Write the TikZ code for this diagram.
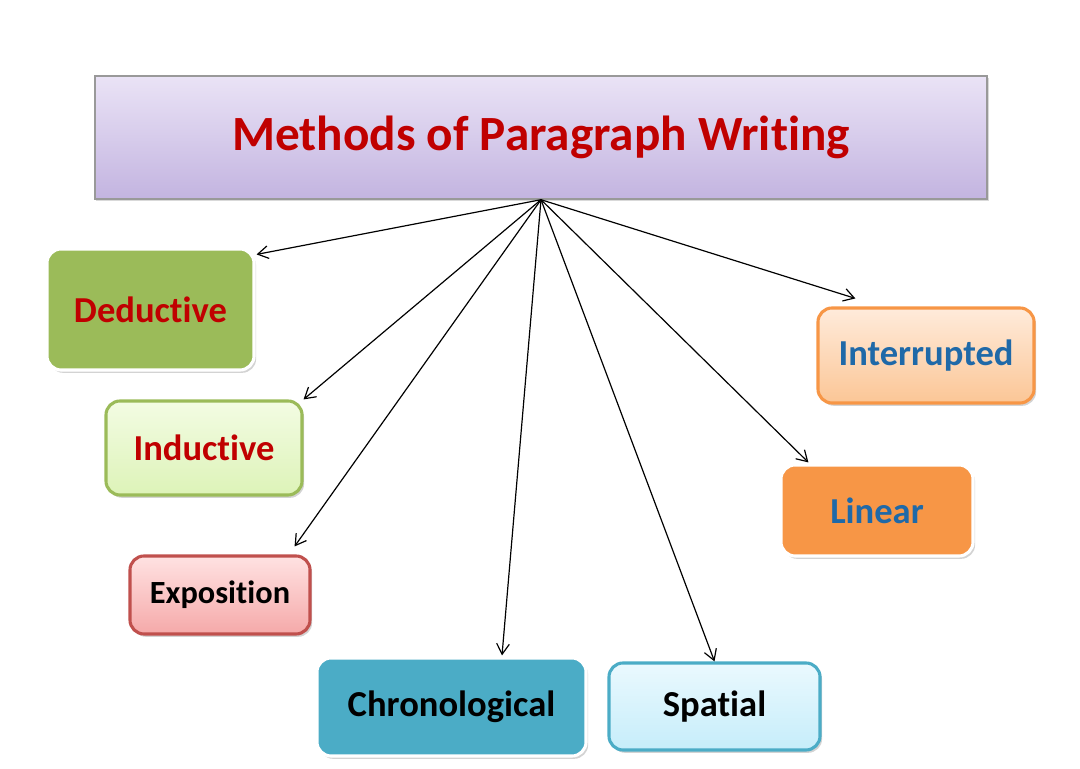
\documentclass[tikz,border=0pt]{standalone}
\usepackage{fontspec}
\setmainfont{Carlito}[Ligatures={NoCommon,NoContextual}]
\usetikzlibrary{calc,shadows,arrows.meta}
\definecolor{deepred}{HTML}{C00000}
\definecolor{deepblue}{HTML}{1F69A8}
\definecolor{olive}{HTML}{9BBB59}
\definecolor{teal}{HTML}{4BACC6}
\definecolor{tangerine}{HTML}{F79646}
\definecolor{rosered}{HTML}{C0504D}
\definecolor{lilactop}{HTML}{EAE3F6}
\definecolor{lilacbot}{HTML}{C3B4E0}
\definecolor{limetop}{HTML}{F3FCE3}
\definecolor{limebot}{HTML}{DDF3B8}
\definecolor{pinktop}{HTML}{FFE2E2}
\definecolor{pinkbot}{HTML}{F5A9A9}
\definecolor{skytop}{HTML}{EAF9FE}
\definecolor{skybot}{HTML}{C6EDFA}
\definecolor{peachtop}{HTML}{FFEBDB}
\definecolor{peachbot}{HTML}{FBC696}
\tikzset{
>={Straight Barb[length=7.5pt,width=9pt]},
  headbox/.style={
    rectangle,
    draw=black!40, line width=1pt,
    top color=lilactop, bottom color=lilacbot,
    minimum width=22.3cm, minimum height=3.075cm,
    font=\fontsize{35}{40}\selectfont\bfseries, text=deepred,
    drop shadow={shadow xshift=1pt, shadow yshift=-1.5pt, opacity=.3}},
  kindbox/.style={
    rectangle,
    rounded corners=10pt,
    line width=2.2pt,
    font=\fontsize{26}{30}\selectfont\bfseries,
    drop shadow={shadow xshift=1.5pt, shadow yshift=-2pt, opacity=.35}},
  solid box/.style={kindbox, draw=white, fill=#1},
  soft box/.style n args={3}{kindbox, draw=#1, top color=#2, bottom color=#3},
  link/.style={draw, ->, line width=.85pt},
}
\begin{document}
\begin{tikzpicture}[x=0.025cm, y=0.025cm]
  \useasboundingbox (0,0) rectangle (1080,769);

  \node[headbox] (methods) at (541,631.5) {Methods of Paragraph Writing};

  % left column
  \node[solid box=olive, text=deepred, minimum width=5.175cm, minimum height=3.025cm]
    (deductive) at (150.5,459.5) {Deductive};
  \node[soft box={olive}{limetop}{limebot}, text=deepred,
    minimum width=4.9cm, minimum height=2.35cm]
    (inductive) at (204,321) {Inductive};
  \node[soft box={rosered}{pinktop}{pinkbot}, text=black,
    font=\fontsize{23}{27}\selectfont\bfseries,
    minimum width=4.5cm, minimum height=1.95cm]
    (exposition) at (220,174) {Exposition};

  % bottom row
  \node[solid box=teal, text=black, minimum width=6.725cm, minimum height=2.45cm]
    (chronological) at (451.5,62) {Chronological};
  \node[soft box={teal}{skytop}{skybot}, text=black,
    minimum width=5.275cm, minimum height=2.175cm]
    (spatial) at (714.5,62.5) {Spatial};

  % right column
  \node[solid box=tangerine, text=deepblue, minimum width=4.8cm, minimum height=2.275cm]
    (linear) at (877,258.5) {Linear};
  \node[soft box={tangerine}{peachtop}{peachbot}, text=deepblue,
    minimum width=5.4cm, minimum height=2.375cm]
    (interrupted) at (926,413.5) {Interrupted};

  \path[link] (methods.south) -- ($(deductive.north east)+(1,-7)$);
  \path[link] (methods.south) -- (inductive.north east);
  \path[link] (methods.south) -- ($(exposition.north east)+(-17,8)$);
  \path[link] (methods.south) -- ($(chronological.north)+(50.5,1)$);
  \path[link] (methods.south) -- (spatial.north);
  \path[link] (methods.south) -- ($(linear.north west)+(29,1)$);
  \path[link] (methods.south) -- ($(interrupted.north west)+(39,8)$);
\end{tikzpicture}
\end{document}
